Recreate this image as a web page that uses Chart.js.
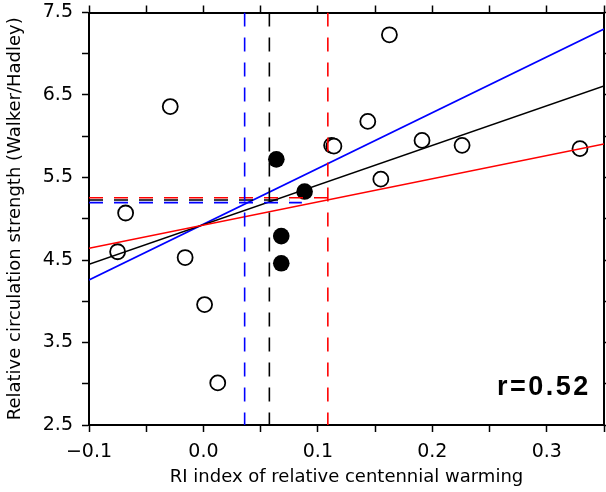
<!DOCTYPE html>
<html>
<head>
<meta charset="utf-8">
<script src="https://cdn.jsdelivr.net/npm/chart.js@4"></script>
<style>
  html, body { margin: 0; padding: 0; background: #fff; }
  #wrap { width: 606px; height: 492px; }
</style>
</head>
<body>
<div id="wrap"><canvas id="chart" width="606" height="492"></canvas></div>
<script>
// model scatter (open circles)
const openX = [-0.075, -0.068, -0.016, -0.029, 0.001, 0.0125, 0.1625, 0.1436, 0.112, 0.114, 0.191, 0.226, 0.155, 0.329];
const openY = [4.60, 5.07, 4.53, 6.36, 3.96, 3.01, 7.23, 6.18, 5.89, 5.88, 5.95, 5.89, 5.48, 5.85];
// filled circles
const fillX = [0.0637, 0.0884, 0.068, 0.068];
const fillY = [5.72, 5.33, 4.79, 4.46];
// regression lines (end values at x = -0.1 and 0.35)
const lineEnds = [-0.1, 0.35];
const blackFit = [4.448, 6.609];
const blueFit = [4.258, 7.30];
const redFit = [4.642, 5.906];
// dashed reference values
const vLines = { blue: 0.036, black: 0.0576, red: 0.1087 };
const hLines = { red: [5.254, 0.109], black: [5.227, 0.075], blue: [5.195, 0.086] };
const xTickLabels = [-0.1, 0.0, 0.1, 0.2, 0.3];
const yTickLabels = [2.5, 3.5, 4.5, 5.5, 6.5, 7.5];
const rText = "r=0.52";

const pts = (xs, ys) => xs.map((x, i) => ({ x: x, y: ys[i] }));
const fit = ys => lineEnds.map((x, i) => ({ x: x, y: ys[i] }));

const tickFont = { family: "'DejaVu Sans', sans-serif", size: 19 };

function lineSet(data, color, dashed) {
    return {
        type: "line", data: data, borderColor: color, borderWidth: 1.6,
        borderDash: dashed ? [14, 11] : [], pointRadius: 0, fill: false, tension: 0
    };
}

function fmtX(v) {
    const r = Math.round(v * 100);
    if (!xTickLabels.some(t => Math.round(t * 100) === r)) return "";
    const s = Math.abs(r / 100).toFixed(1);
    return r < 0 ? "\u2212" + s : s;
}
function fmtY(v) {
    const r = Math.round(v * 10);
    if (!yTickLabels.some(t => Math.round(t * 10) === r)) return "";
    return (r / 10).toFixed(1);
}

const datasets = [
    lineSet([{ x: vLines.blue, y: 7.5 }, { x: vLines.blue, y: 2.5 }], "#0000ff", true),
    lineSet([{ x: vLines.black, y: 7.5 }, { x: vLines.black, y: 2.5 }], "#000000", true),
    lineSet([{ x: vLines.red, y: 7.5 }, { x: vLines.red, y: 2.5 }], "#ff0000", true),
    lineSet([{ x: -0.1, y: hLines.red[0] }, { x: hLines.red[1], y: hLines.red[0] }], "#ff0000", true),
    lineSet([{ x: -0.1, y: hLines.black[0] }, { x: hLines.black[1], y: hLines.black[0] }], "#000000", true),
    lineSet([{ x: -0.1, y: hLines.blue[0] }, { x: hLines.blue[1], y: hLines.blue[0] }], "#0000ff", true),
    lineSet(fit(redFit), "#ff0000", false),
    lineSet(fit(blackFit), "#000000", false),
    lineSet(fit(blueFit), "#0000ff", false),
    {
        type: "scatter", data: pts(openX, openY), pointStyle: "circle", pointRadius: 7.5,
        pointBackgroundColor: "#ffffff", pointBorderColor: "#000000", pointBorderWidth: 1.8
    },
    {
        type: "scatter", data: pts(openX, openY), pointRadius: 0.7,
        pointBackgroundColor: "#000000", pointBorderWidth: 0
    },
    {
        type: "scatter", data: pts(fillX, fillY), pointRadius: 8.3,
        pointBackgroundColor: "#000000", pointBorderWidth: 0
    }
];

const rLabel = {
    id: "rLabel",
    afterDraw(chart) {
        const ctx = chart.ctx;
        ctx.save();
        ctx.font = "bold 27px 'Liberation Sans', Arial, sans-serif";
        ctx.letterSpacing = "2.5px";
        ctx.fillStyle = "#000";
        ctx.textBaseline = "alphabetic";
        ctx.fillText(rText, 497, 395);
        ctx.restore();
    }
};

function noPad(s) {
    s.paddingTop = 0; s.paddingBottom = 0; s.paddingLeft = 0; s.paddingRight = 0;
}

function axisCommon(min, max, step, fmt, show) {
    return {
        type: "linear", min: min, max: max,
        border: { color: "#000", width: 2 },
        grid: { drawOnChartArea: false, drawTicks: true, tickLength: 7, tickColor: "#000", tickWidth: 1.5 },
        ticks: {
            stepSize: step, autoSkip: false, color: "#000", font: tickFont,
            callback: show ? fmt : () => "", padding: 9, maxRotation: 0
        }
    };
}

const x = axisCommon(-0.1, 0.35, 0.05, fmtX, true);
x.position = "bottom";
x.title = {
    display: true, text: "RI index of relative centennial warming", color: "#000",
    font: { family: "'DejaVu Sans', sans-serif", size: 18 }, padding: { top: 11 }
};
x.afterFit = s => { s.height = 67; noPad(s); };

const x2 = axisCommon(-0.1, 0.35, 0.05, fmtX, false);
x2.position = "top";
x2.ticks.padding = 0;
x2.afterFit = s => { s.height = 12.5; noPad(s); };

const y = axisCommon(2.5, 7.5, 0.5, fmtY, true);
y.position = "left";
y.title = {
    display: true, text: "Relative circulation strength (Walker/Hadley)", color: "#000",
    font: { family: "'DejaVu Sans', sans-serif", size: 18 }, padding: { top: 5, bottom: 0 }
};
y.afterFit = s => { s.width = 89; noPad(s); };

const y2 = axisCommon(2.5, 7.5, 0.5, fmtY, false);
y2.position = "right";
y2.ticks.padding = 0;
y2.afterFit = s => { s.width = 2; noPad(s); };

new Chart(document.getElementById("chart"), {
    type: "scatter",
    data: { datasets: datasets },
    options: {
        responsive: false,
        animation: false,
        layout: { padding: 0, autoPadding: false },
        plugins: { legend: { display: false }, tooltip: { enabled: false } },
        scales: { x: x, x2: x2, y: y, y2: y2 }
    },
    plugins: [rLabel]
});
</script>
</body>
</html>
